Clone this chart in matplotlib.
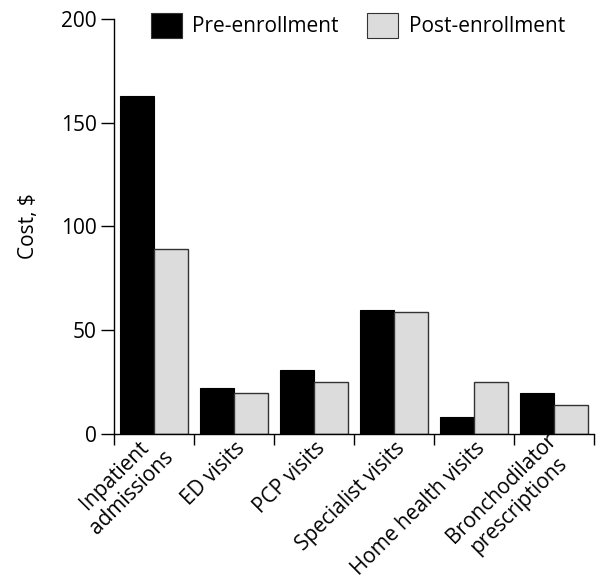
import matplotlib
matplotlib.use("Agg")
import matplotlib.pyplot as plt
import numpy as np
from matplotlib.patches import Patch

categories = ["Inpatient\nadmissions", "ED visits", "PCP visits", "Specialist visits",
              "Home health visits", "Bronchodilator\nprescriptions"]
pre_enrollment = [163, 22, 31, 60, 8, 20]
post_enrollment = [89, 20, 25, 59, 25, 14]
series_names = ["Pre-enrollment", "Post-enrollment"]
yticks = [0, 50, 100, 150, 200]

plt.rcParams['font.family'] = ['Open Sans', 'DejaVu Sans']
FS = 15

fig = plt.figure(figsize=(5.96, 5.78), dpi=100)
W, H = 596, 578
ax = fig.add_axes([114 / W, 1 - 434 / H, (594 - 114) / W, (434 - 19) / H])

n = len(categories)
centers = np.arange(n) + 0.5
bw = 0.425
ax.bar(centers - bw / 2, pre_enrollment, width=bw, color='black', edgecolor='black', linewidth=0.8)
ax.bar(centers + bw / 2, post_enrollment, width=bw, color='#dcdcdc', edgecolor='#333333', linewidth=1.0)

ax.set_xlim(0, n)
ax.set_ylim(0, 200)
ax.set_yticks(yticks)
ax.set_yticklabels([str(v) for v in yticks], fontsize=FS)
ax.set_xticks(np.arange(n + 1))
ax.set_xticklabels([])
ax.set_xticks(centers + 0.1, minor=True)
ax.set_xticklabels(categories, minor=True, rotation=45, ha='right', va='center',
                   rotation_mode='anchor', fontsize=FS, multialignment='center')
ax.tick_params(axis='x', which='minor', length=0, pad=8)
ax.tick_params(axis='x', which='major', length=8, width=1, direction='out')
ax.tick_params(axis='y', length=9.5, width=1, direction='out', pad=3)

for s in ['top', 'right']:
    ax.spines[s].set_visible(False)
for s in ['left', 'bottom']:
    ax.spines[s].set_linewidth(1.0)

ax.set_ylabel("Cost, $", fontsize=FS, labelpad=16)

handles = [Patch(facecolor='black', edgecolor='#333333', linewidth=0.8),
           Patch(facecolor='#dcdcdc', edgecolor='#333333', linewidth=0.8)]
fig.legend(handles, series_names, loc='upper left', bbox_to_anchor=(136 / W, 1 + 2 / H),
           ncol=2, frameon=False, fontsize=FS, handlelength=1.5, handleheight=1.5,
           handletextpad=0.5, columnspacing=1.35, borderpad=0.2)

fig.savefig("out.png", dpi=100)
